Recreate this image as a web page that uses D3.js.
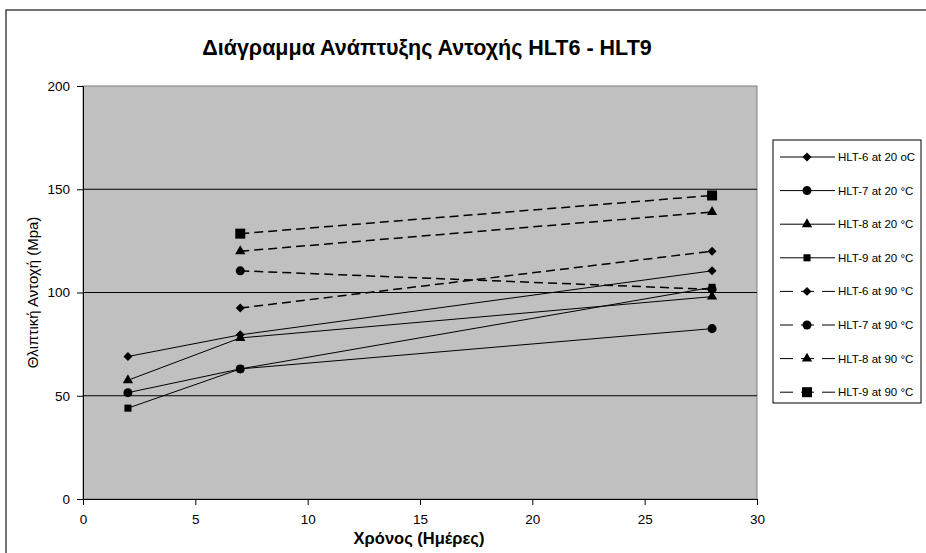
<!DOCTYPE html>
<html><head><meta charset="utf-8">
<script src="https://cdn.jsdelivr.net/npm/d3@7"></script>
<style>body{margin:0;background:#fff}svg{display:block;font-family:"Liberation Sans",Arial,sans-serif}</style>
</head><body><svg id="c" width="926" height="553"></svg>
<script>
const title = "Διάγραμμα Ανάπτυξης Αντοχής HLT6 - HLT9";
const xLabel = "Χρόνος (Ημέρες)";
const yLabel = "Θλιπτική Αντοχή (Mpa)";
const xTicks = [0,5,10,15,20,25,30];
const yTicks = [0,50,100,150,200];
const seriesNames = ["HLT-6 at 20 oC","HLT-7 at 20 °C","HLT-8 at 20 °C","HLT-9 at 20 °C","HLT-6 at 90 °C","HLT-7 at 90 °C","HLT-8 at 90 °C","HLT-9 at 90 °C"];
const seriesMarkers = ["diamond","circle","triangle","square","diamond","circle","triangle","square"];
const seriesDashed = [false,false,false,false,true,true,true,true];
const days20 = [2,7,28];
const days90 = [7,28];
const hlt6_20 = [69,79.5,110.5];
const hlt7_20 = [51.5,63,82.5];
const hlt8_20 = [57.5,78,98];
const hlt9_20 = [44,63,102.5];
const hlt6_90 = [92.5,120];
const hlt7_90 = [110.5,101.5];
const hlt8_90 = [120,139];
const hlt9_90 = [128.5,147];

const seriesValues = [hlt6_20,hlt7_20,hlt8_20,hlt9_20,hlt6_90,hlt7_90,hlt8_90,hlt9_90];
const series = seriesNames.map((n,i)=>({
  name:n, marker:seriesMarkers[i], dashed:seriesDashed[i],
  pts:(seriesDashed[i]?days90:days20).map((d,j)=>[d,seriesValues[i][j]])
}));

const svg = d3.select("#c");
const x = d3.scaleLinear().domain([0,30]).range([83,757]);
const y = d3.scaleLinear().domain([0,200]).range([499,86]);

// outer frame
svg.append("rect").attr("x",6).attr("y",10).attr("width",930).attr("height",560)
  .attr("fill","none").attr("stroke","#444").attr("stroke-width",1.5);

// plot area
svg.append("rect").attr("x",x(0)).attr("y",y(200)).attr("width",x(30)-x(0)).attr("height",y(0)-y(200))
  .attr("fill","#c0c0c0").attr("stroke","#808080").attr("stroke-width",1);

// gridlines
svg.append("g").selectAll("line").data(yTicks.filter(t=>t>0&&t<200)).join("line")
  .attr("x1",x(0)).attr("x2",x(30)).attr("y1",d=>y(d)).attr("y2",d=>y(d))
  .attr("stroke","#000").attr("stroke-width",1);

// axes
const yAxis = svg.append("g").attr("transform",`translate(${x(0)},0)`)
  .call(d3.axisLeft(y).tickValues(yTicks).tickSize(6).tickPadding(7));
const xAxis = svg.append("g").attr("transform",`translate(0,${y(0)})`)
  .call(d3.axisBottom(x).tickValues(xTicks).tickSize(6).tickPadding(9));
[yAxis,xAxis].forEach(a=>{
  a.select(".domain").attr("stroke","#000");
  a.selectAll(".tick line").attr("stroke","#000");
  a.selectAll("text").attr("font-size",13.5).attr("fill","#000").attr("font-family","Liberation Sans, Arial, sans-serif");
});

const diamond = {draw(ctx,size){const r=Math.sqrt(size/2);ctx.moveTo(0,-r);ctx.lineTo(r,0);ctx.lineTo(0,r);ctx.lineTo(-r,0);ctx.closePath();}};
const symType = {diamond:diamond,circle:d3.symbolCircle,triangle:d3.symbolTriangle,square:d3.symbolSquare};
const symSize = (m,dashed)=>({diamond:40,circle:64,triangle:46,square:dashed?100:50})[m];

const line = d3.line().x(d=>x(d[0])).y(d=>y(d[1]));
const gS = svg.append("g");
series.forEach(s=>{
  gS.append("path").attr("d",line(s.pts)).attr("fill","none").attr("stroke","#000")
    .attr("stroke-width",s.dashed?1.5:1).attr("stroke-dasharray",s.dashed?"9,5":null);
});
series.forEach(s=>{
  gS.selectAll(null).data(s.pts).join("path")
    .attr("transform",d=>`translate(${x(d[0])},${y(d[1])})`)
    .attr("d",d3.symbol().type(symType[s.marker]).size(symSize(s.marker,s.dashed)))
    .attr("fill","#000");
});

// title and labels
svg.append("text").attr("x",427).attr("y",55).attr("text-anchor","middle")
  .attr("font-size",21.5).attr("font-weight","bold").text(title);
svg.append("text").attr("x",419).attr("y",544).attr("text-anchor","middle")
  .attr("font-size",16.5).attr("font-weight","bold").text(xLabel);
svg.append("text").attr("transform",`translate(38,${(y(0)+y(200))/2}) rotate(-90)`).attr("text-anchor","middle")
  .attr("font-size",15).text(yLabel);

// legend
const lg = svg.append("g");
lg.append("rect").attr("x",773).attr("y",140).attr("width",148).attr("height",263)
  .attr("fill","#fff").attr("stroke","#000").attr("stroke-width",1);
series.forEach((s,i)=>{
  const yy = 157 + i*33.6;
  lg.append("line").attr("x1",780).attr("x2",835).attr("y1",yy).attr("y2",yy)
    .attr("stroke","#000").attr("stroke-width",1).attr("stroke-dasharray",s.dashed?"13,8":null);
  lg.append("path").attr("transform",`translate(807,${yy})`)
    .attr("d",d3.symbol().type(symType[s.marker]).size(symSize(s.marker,s.dashed)))
    .attr("fill","#000");
  lg.append("text").attr("x",838).attr("y",yy).attr("dy","0.35em")
    .attr("font-size",11.5).attr("fill","#000").text(s.name);
});
</script></body></html>
